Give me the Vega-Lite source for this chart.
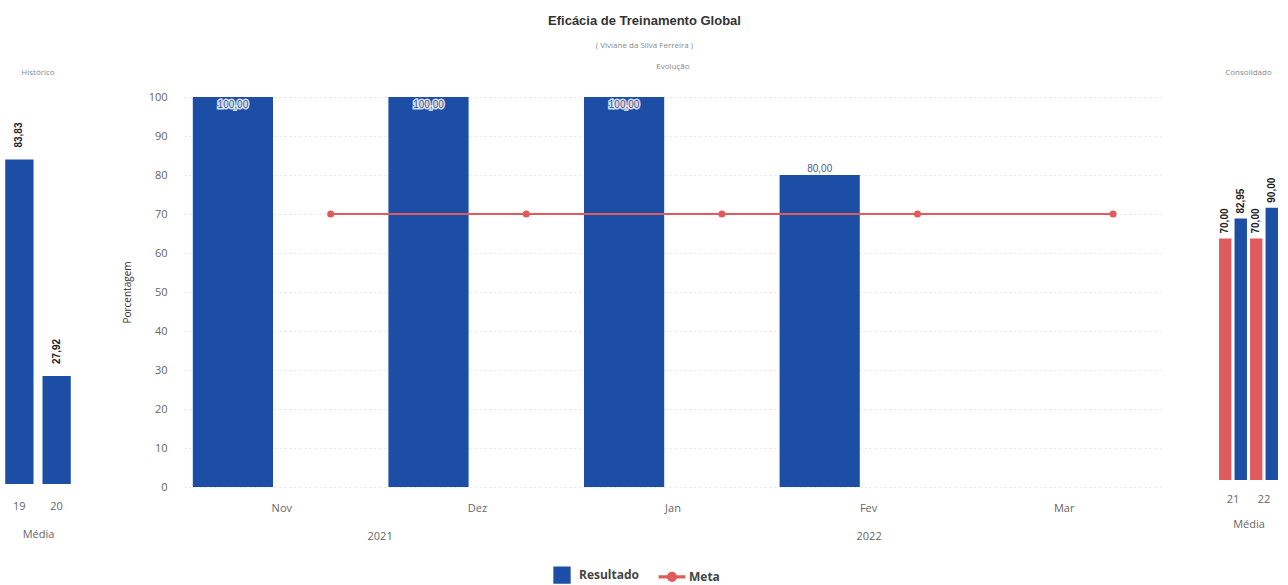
{
  "$schema": "https://vega.github.io/schema/vega-lite/v6.json",
  "padding": {"left": 0, "top": 15, "right": 0, "bottom": 5},
  "background": "white",
  "title": {
    "text": "Eficácia de Treinamento Global",
    "subtitle": "( Viviane da Silva Ferreira )",
    "anchor": "middle",
    "font": "Liberation Sans",
    "fontSize": 13,
    "fontWeight": "bold",
    "color": "#333333",
    "subtitleFont": "Open Sans",
    "subtitleFontSize": 8,
    "subtitleColor": "#888888",
    "subtitlePadding": 14,
    "offset": 13
  },
  "config": {
    "locale": {"number": {"decimal": ",", "thousands": ".", "grouping": [3], "currency": ["R$", ""]}},
    "view": {"stroke": null},
    "title": {"font": "Open Sans", "fontSize": 8, "fontWeight": "normal", "color": "#888888", "offset": 20},
    "axis": {"labelFont": "Open Sans", "titleFont": "Open Sans", "labelColor": "#666666", "titleColor": "#666666", "labelFontSize": 11, "titleFontSize": 11, "titleFontWeight": "normal"}
  },
  "spacing": 46,
  "resolve": {"scale": {"color": "shared", "shape": "shared", "xOffset": "independent", "x": "independent", "y": "independent"}},
  "hconcat": [
    {
      "title": "Histórico",
      "width": 76,
      "height": 387,
      "data": {"values": [{"ano": "19", "valor": 83.83}, {"ano": "20", "valor": 27.92}]},
      "encoding": {
        "x": {"field": "ano", "type": "nominal", "scale": {"paddingInner": 0.24, "paddingOuter": 0.14},
              "axis": {"title": "Média", "labelAngle": 0, "domain": false, "ticks": false, "labelPadding": 16, "titlePadding": 17}},
        "y": {"field": "valor", "type": "quantitative", "scale": {"domain": [0, 100]}, "axis": null}
      },
      "layer": [
        {"mark": {"type": "bar", "color": "#1d4ea6"}},
        {"mark": {"type": "text", "angle": 270, "align": "left", "baseline": "middle", "dx": 12, "font": "Liberation Sans", "fontSize": 10, "fontWeight": "bold", "color": "#222222"},
         "encoding": {"text": {"field": "valor", "type": "quantitative", "format": ".2f"}}}
      ]
    },
    {
      "title": "Evolução",
      "width": 978,
      "height": 390,
      "resolve": {"scale": {"x": "independent"}},
      "layer": [
        {
          "data": {"values": [
            {"mes": "Nov", "serie": "Resultado", "valor": 100},
            {"mes": "Dez", "serie": "Resultado", "valor": 100},
            {"mes": "Jan", "serie": "Resultado", "valor": 100},
            {"mes": "Fev", "serie": "Resultado", "valor": 80},
            {"mes": "Nov", "serie": "Meta", "valor": 70},
            {"mes": "Dez", "serie": "Meta", "valor": 70},
            {"mes": "Jan", "serie": "Meta", "valor": 70},
            {"mes": "Fev", "serie": "Meta", "valor": 70},
            {"mes": "Mar", "serie": "Meta", "valor": 70}
          ]},
          "encoding": {
            "x": {"field": "mes", "type": "nominal", "sort": ["Nov", "Dez", "Jan", "Fev", "Mar"],
                  "scale": {"domain": ["Nov", "Dez", "Jan", "Fev", "Mar"], "paddingInner": 0, "paddingOuter": 0},
                  "axis": {"title": null, "labelAngle": 0, "domain": false, "ticks": false, "labelPadding": 15}},
            "xOffset": {"field": "serie", "type": "nominal", "scale": {"domain": ["Resultado", "Meta"], "paddingInner": 0.18, "paddingOuter": 0.09}},
            "y": {"field": "valor", "type": "quantitative", "stack": null, "scale": {"domain": [0, 100]},
                  "axis": {"title": "Porcentagem", "titleColor": "#333333", "titleFontSize": 10, "tickCount": 10, "domain": false, "ticks": false, "labelPadding": 17, "titlePadding": 16, "gridColor": "#e4e4e4", "gridDash": [2, 3]}},
            "color": {"field": "serie", "type": "nominal", "scale": {"domain": ["Resultado", "Meta"], "range": ["#1d4ea6", "#e05c5c"]},
                      "legend": {"title": null, "orient": "none", "legendX": 553, "legendY": 469, "direction": "horizontal", "symbolSize": 250, "labelFont": "Open Sans", "labelFontSize": 12, "labelFontWeight": "bold", "labelColor": "#444444", "labelOffset": 8, "columnPadding": 16}}
          },
          "layer": [
            {"transform": [{"filter": "datum.serie == 'Resultado'"}], "mark": {"type": "bar"}},
            {"transform": [{"filter": "datum.serie == 'Meta'"}], "mark": {"type": "line", "strokeWidth": 2}},
            {"transform": [{"filter": "datum.serie == 'Meta'"}], "mark": {"type": "point", "filled": true, "opacity": 1, "size": 50}},
            {"transform": [{"filter": "datum.serie == 'Resultado' && datum.valor >= 95"}],
             "mark": {"type": "text", "baseline": "top", "dy": 3, "font": "Liberation Sans", "fontSize": 10, "stroke": "#ffffff", "strokeWidth": 3, "strokeOpacity": 0.8, "fill": "#ffffff"},
             "encoding": {"text": {"field": "valor", "type": "quantitative", "format": ".2f"}, "color": {"value": "#ffffff"}}},
            {"transform": [{"filter": "datum.serie == 'Resultado' && datum.valor >= 95"}],
             "mark": {"type": "text", "baseline": "top", "dy": 3, "font": "Liberation Sans", "fontSize": 10},
             "encoding": {"text": {"field": "valor", "type": "quantitative", "format": ".2f"}, "color": {"value": "#3b5088"}}},
            {"transform": [{"filter": "datum.serie == 'Resultado' && datum.valor < 95"}],
             "mark": {"type": "text", "baseline": "bottom", "dy": -1, "font": "Liberation Sans", "fontSize": 10},
             "encoding": {"text": {"field": "valor", "type": "quantitative", "format": ".2f"}, "color": {"value": "#4a5a88"}}},
            {"mark": {"type": "point", "filled": true, "size": 0},
             "encoding": {
               "shape": {"field": "serie", "type": "nominal",
                         "scale": {"domain": ["Resultado", "Meta"], "range": ["square", "M-1.6,-0.12L1.6,-0.12L1.6,0.12L-1.6,0.12Z M0.55,0A0.55,0.55 0 1,1 -0.55,0A0.55,0.55 0 1,1 0.55,0Z"]},
                         "legend": {"title": null, "orient": "none", "legendX": 553, "legendY": 469, "direction": "horizontal", "symbolSize": 250, "labelFont": "Open Sans", "labelFontSize": 12, "labelFontWeight": "bold", "labelColor": "#444444", "labelOffset": 8, "columnPadding": 16}}
             }}
          ]
        },
        {
          "data": {"values": [{"ano": "2021", "pos": 1}, {"ano": "2022", "pos": 3.5}]},
          "mark": {"type": "text", "opacity": 0},
          "encoding": {
            "x": {"field": "pos", "type": "quantitative", "scale": {"domain": [0, 5], "nice": false, "zero": false},
                  "axis": {"orient": "bottom", "title": null, "values": [1, 3.5], "labelExpr": "datum.value == 1 ? '2021' : '2022'", "domain": false, "ticks": false, "grid": false, "labelPadding": 43}},
            "text": {"field": "ano"}
          }
        }
      ]
    },
    {
      "title": "Consolidado",
      "width": 81,
      "height": 383,
      "data": {"values": [
        {"ano": "21", "serie": "Meta", "valor": 70},
        {"ano": "21", "serie": "Resultado", "valor": 82.95},
        {"ano": "22", "serie": "Meta", "valor": 70},
        {"ano": "22", "serie": "Resultado", "valor": 90}
      ]},
      "encoding": {
        "x": {"field": "ano", "type": "nominal", "scale": {"paddingInner": 0.1, "paddingOuter": 0.356},
              "axis": {"title": "Média", "labelAngle": 0, "domain": false, "ticks": false, "labelPadding": 13, "titlePadding": 14}},
        "xOffset": {"field": "serie", "type": "nominal", "scale": {"domain": ["Meta", "Resultado"], "paddingInner": 0.2}},
        "y": {"field": "valor", "type": "quantitative", "stack": null, "scale": {"domain": [-87, 162], "nice": false, "zero": false}, "axis": null}
      },
      "layer": [
        {"mark": {"type": "bar"},
         "encoding": {"color": {"field": "serie", "type": "nominal", "legend": null}, "y2": {"datum": -87}}},
        {"mark": {"type": "text", "angle": 270, "align": "left", "baseline": "middle", "dx": 5, "font": "Liberation Sans", "fontSize": 10, "fontWeight": "bold", "color": "#222222"},
         "encoding": {"text": {"field": "valor", "type": "quantitative", "format": ".2f"}}}
      ]
    }
  ]
}
